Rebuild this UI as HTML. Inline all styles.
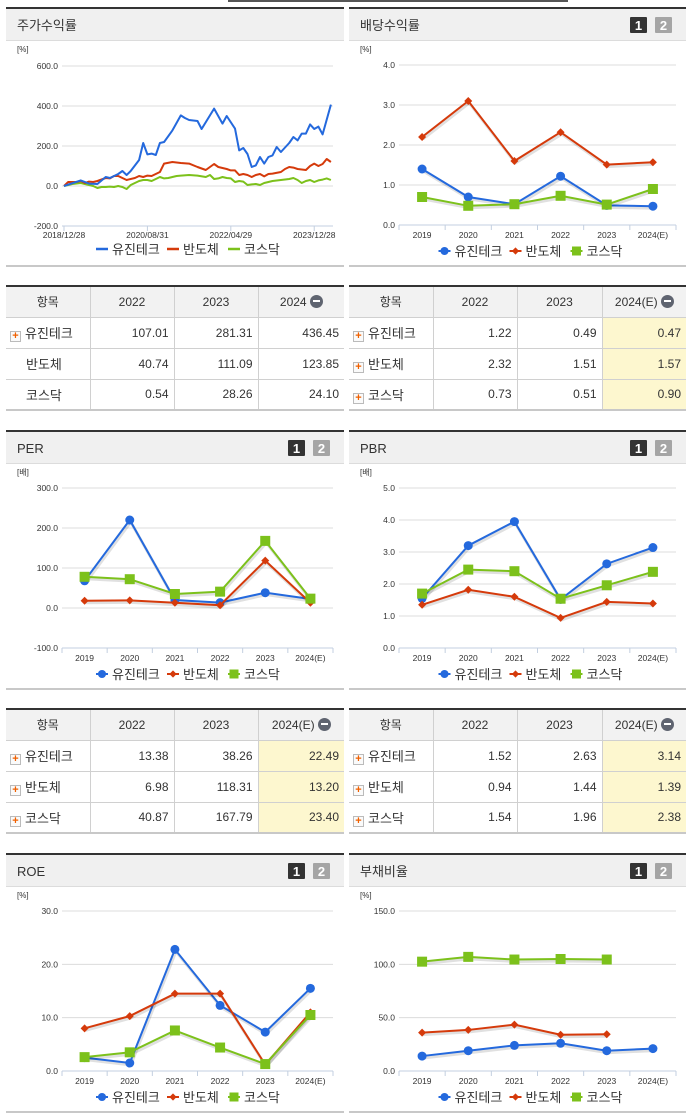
<!DOCTYPE html>
<html><head><meta charset="utf-8">
<style>
*{margin:0;padding:0;box-sizing:border-box}
body{width:691px;height:1115px;background:#fff;position:relative;overflow:hidden;font-family:"Liberation Sans","Noto Sans CJK KR",sans-serif;color:#333}
svg{position:absolute;left:0;top:0}
.tbl{position:absolute;border-collapse:collapse;border-top:2px solid #333;border-bottom:2px solid #c8c8c8;font-size:12px;table-layout:fixed}
.tbl th{background:#f2f2f2;font-weight:normal;height:31px;border-left:1px solid #d0d0d0;border-bottom:1px solid #d0d0d0;font-size:12px;color:#333}
.tbl td{height:31px;border-left:1px solid #d0d0d0;border-bottom:1px solid #d0d0d0;text-align:right;padding-right:5px;color:#333}
.tbl th:first-child,.tbl td:first-child{border-left:none}
.tbl td.lab{text-align:left;padding-left:4px;font-size:13px}
.tbl td.y{background:#fdf7cf}
.pl{display:inline-block;width:11px;height:11px;border:1px solid #bbb;background:#fafafa;color:#f06000;font-size:11px;line-height:9px;text-align:center;font-weight:bold;vertical-align:-1px;margin-right:4px}
.mi{display:inline-block;width:13px;height:13px;border-radius:50%;background:#5f6470;vertical-align:-2px;margin-left:3px;position:relative}
.mi:after{content:"";position:absolute;left:3px;top:5.5px;width:7px;height:2px;background:#fff}
</style></head>
<body>
<svg id="cv" width="691" height="1115"></svg>

<table class="tbl" style="left:6px;top:285px;width:338px">
<colgroup><col style="width:84px"><col style="width:84px"><col style="width:84px"><col style="width:86px"></colgroup>
<tr><th>항목</th><th>2022</th><th>2023</th><th>2024<span class="mi"></span></th></tr>
<tr><td class="lab"><span class="pl">+</span>유진테크</td><td>107.01</td><td>281.31</td><td>436.45</td></tr>
<tr><td class="lab" style="padding-left:20px">반도체</td><td>40.74</td><td>111.09</td><td>123.85</td></tr>
<tr><td class="lab" style="padding-left:20px">코스닥</td><td>0.54</td><td>28.26</td><td>24.10</td></tr>
</table>

<table class="tbl" style="left:349px;top:285px;width:337px">
<colgroup><col style="width:84px"><col style="width:84px"><col style="width:85px"><col style="width:84px"></colgroup>
<tr><th>항목</th><th>2022</th><th>2023</th><th>2024(E)<span class="mi"></span></th></tr>
<tr><td class="lab"><span class="pl">+</span>유진테크</td><td>1.22</td><td>0.49</td><td class="y">0.47</td></tr>
<tr><td class="lab"><span class="pl">+</span>반도체</td><td>2.32</td><td>1.51</td><td class="y">1.57</td></tr>
<tr><td class="lab"><span class="pl">+</span>코스닥</td><td>0.73</td><td>0.51</td><td class="y">0.90</td></tr>
</table>

<table class="tbl" style="left:6px;top:708px;width:338px">
<colgroup><col style="width:84px"><col style="width:84px"><col style="width:84px"><col style="width:86px"></colgroup>
<tr><th>항목</th><th>2022</th><th>2023</th><th>2024(E)<span class="mi"></span></th></tr>
<tr><td class="lab"><span class="pl">+</span>유진테크</td><td>13.38</td><td>38.26</td><td class="y">22.49</td></tr>
<tr><td class="lab"><span class="pl">+</span>반도체</td><td>6.98</td><td>118.31</td><td class="y">13.20</td></tr>
<tr><td class="lab"><span class="pl">+</span>코스닥</td><td>40.87</td><td>167.79</td><td class="y">23.40</td></tr>
</table>

<table class="tbl" style="left:349px;top:708px;width:337px">
<colgroup><col style="width:84px"><col style="width:84px"><col style="width:85px"><col style="width:84px"></colgroup>
<tr><th>항목</th><th>2022</th><th>2023</th><th>2024(E)<span class="mi"></span></th></tr>
<tr><td class="lab"><span class="pl">+</span>유진테크</td><td>1.52</td><td>2.63</td><td class="y">3.14</td></tr>
<tr><td class="lab"><span class="pl">+</span>반도체</td><td>0.94</td><td>1.44</td><td class="y">1.39</td></tr>
<tr><td class="lab"><span class="pl">+</span>코스닥</td><td>1.54</td><td>1.96</td><td class="y">2.38</td></tr>
</table>

<script>
// ---- data ----
const seriesNames = ["유진테크","반도체","코스닥"];
const years = ["2019","2020","2021","2022","2023","2024(E)"];
// stock return (months since 2018/12)
const blueMonths = [0,4,6,8,10,11,13,14,15,16,18,19,20,21,22,23,24,26,28,29,30,32,33,36,38,39,41,42,43,44,45,46,47,48,49,50,51,52,54,55,56,57,58,59,60,61,62,64];
const blueRet = [0,28,12,10,45,40,60,75,55,75,130,215,158,162,155,215,220,278,353,340,330,325,285,387,312,350,287,178,190,160,95,103,145,112,145,153,195,170,215,245,228,262,262,308,285,297,258,407];
const redMonths = [0,1,3,4,5,6,7,8,10,11,12,13,15,17,18,19,20,21,23,24,26,28,30,32,34,36,37,39,40,41,42,43,44,45,46,47,48,49,50,52,53,54,55,56,58,59,60,61,62,63,64];
const redRet = [0,20,20,25,15,22,20,25,40,38,50,50,30,40,50,45,52,50,70,112,120,115,112,95,80,110,95,85,78,78,55,60,55,45,55,60,48,60,62,70,85,95,92,85,80,100,112,100,110,135,120];
const greenMonths = [0,2,4,6,7,8,9,10,11,12,13,14,15,16,17,18,19,20,21,22,23,24,25,26,27,28,30,32,34,35,36,37,38,39,40,41,42,43,44,45,46,47,48,49,50,52,54,55,56,57,58,59,60,61,62,63,64];
const greenRet = [0,10,15,5,0,-10,-5,-5,-3,-5,0,-5,-15,5,15,25,30,30,25,35,45,38,40,45,50,52,55,52,45,55,35,38,45,40,38,20,25,22,5,8,10,5,15,20,25,30,35,40,30,15,25,30,20,28,32,38,30];
const retTicks = ["600.0","400.0","200.0","0.0","-200.0"];
const dateTicks = ["2018/12/28","2020/08/31","2022/04/29","2023/12/28"];
const dateTickMonths = [0,20,40,60];
// dividend
const divBlue=[1.4,0.7,0.52,1.22,0.49,0.47], divRed=[2.2,3.1,1.6,2.32,1.51,1.57], divGreen=[0.7,0.48,0.52,0.73,0.51,0.9];
const divTicks=["4.0","3.0","2.0","1.0","0.0"];
// PER
const perBlue=[68,220,20,13.38,38.26,22.49], perRed=[18,19,13,6.98,118.31,13.2], perGreen=[78,72,35,40.87,167.79,23.4];
const perTicks=["300.0","200.0","100.0","0.0","-100.0"];
// PBR
const pbrBlue=[1.55,3.2,3.95,1.52,2.63,3.14], pbrRed=[1.35,1.82,1.6,0.94,1.44,1.39], pbrGreen=[1.7,2.45,2.4,1.54,1.96,2.38];
const pbrTicks=["5.0","4.0","3.0","2.0","1.0","0.0"];
// ROE
const roeBlue=[2.5,1.5,22.8,12.3,7.3,15.5], roeRed=[8,10.3,14.5,14.5,1.2,11], roeGreen=[2.6,3.5,7.6,4.4,1.3,10.5];
const roeTicks=["30.0","20.0","10.0","0.0"];
// debt ratio
const debtBlue=[14,19,24,26,19,21], debtRed=[36,38.5,43.5,34,34.5,null], debtGreen=[102.5,107,104.5,105,104.5,null];
const debtTicks=["150.0","100.0","50.0","0.0"];

const C=["#2469dd","#d53a0b","#7cc11b"];
const NS="http://www.w3.org/2000/svg";
const svg=document.getElementById('cv');
function el(t,a,p){const e=document.createElementNS(NS,t);for(const k in a)e.setAttribute(k,a[k]);(p||svg).appendChild(e);return e;}
function txt(x,y,s,a,p){const e=el('text',Object.assign({x:x,y:y},a),p);e.textContent=s;return e;}

function panel(x0,w,y0,title,name,btns,unit){
  const g=el('g',{});
  
  
  el('rect',{x:x0,y:y0,width:w,height:2,fill:'#333'},g);
  el('rect',{x:x0,y:y0+2,width:w,height:31,fill:'#f0f0f0'},g);
  el('rect',{x:x0,y:y0+33,width:w,height:1,fill:'#dcdcdc'},g);
  el('rect',{x:x0,y:y0+258,width:w,height:2,fill:'#c8c8c8'},g);
  const t=txt(x0+11,y0+23,title,{'font-size':13,fill:'#333'},g);
  
  
  if(btns){
    const b1=el('g',{},g);
    
    
    el('rect',{x:x0+w-56,y:y0+10,width:17,height:16,rx:1,fill:'#333'},b1);
    txt(x0+w-47.5,y0+23,'1',{'font-size':13,'font-weight':'bold',fill:'#fff','text-anchor':'middle'},b1);
    const b2=el('g',{},g);
    
    
    el('rect',{x:x0+w-31,y:y0+10,width:17,height:16,rx:1,fill:'#a5a5a5'},b2);
    txt(x0+w-22.5,y0+23,'2',{'font-size':13,'font-weight':'bold',fill:'#fff','text-anchor':'middle'},b2);
  }
  const u=txt(x0+11,y0+45,unit,{'font-size':8,fill:'#333'},g);
  
  
  return g;
}

function legend(cx,y,g,lineStyle){
  const lg=el('g',{},g);
  
  
  const offs=[-52,19,80];
  seriesNames.forEach((n,i)=>{
    const x=cx+offs[i];
    const e=el('g',{},lg);
    
    
    el('line',{x1:x-9,y1:y-4,x2:x+3,y2:y-4,stroke:C[i],'stroke-width':lineStyle?2.5:2},e);
    if(!lineStyle) marker(x-3,y-4,i,e,0.9);
    txt(x+7,y+1,n,{'font-size':13,fill:'#333'},e);
  });
}
function marker(x,y,i,g,s){
  s=s||1;
  if(i===0) return el('circle',{cx:x,cy:y,r:4.5*s,fill:C[0]},g);
  if(i===1) return el('path',{d:`M${x} ${y-4*s}L${x+4*s} ${y}L${x} ${y+4*s}L${x-4*s} ${y}Z`,fill:C[1]},g);
  return el('rect',{x:x-5*s,y:y-5*s,width:10*s,height:10*s,fill:C[2]},g);
}

function catChart(o){
  const g=panel(o.x0,o.w,o.y0,o.title,o.name,true,o.unit);
  const L=o.pl,R=o.pr,T=o.y0+58,B=o.y0+218;
  const ys=v=>B-(v-o.min)/(o.max-o.min)*(B-T);
  const bw=(R-L)/years.length;
  const xs=i=>L+bw*(i+0.5);
  o.ticks.forEach(t=>{
    const v=parseFloat(t),y=ys(v);
    if(v!==o.min) el('line',{x1:L,x2:R,y1:y,y2:y,stroke:'#dcdcdc','stroke-width':1},g);
    txt(L-4,y+3,t,{'font-size':8.5,fill:'#333','text-anchor':'end'},g);
  });
  el('line',{x1:L,x2:R,y1:B,y2:B,stroke:'#c3cfe0','stroke-width':1},g);
  for(let i=0;i<=years.length;i++) el('line',{x1:L+bw*i,x2:L+bw*i,y1:B,y2:B+5,stroke:'#c3cfe0'},g);
  years.forEach((yr,i)=>txt(xs(i),B+13,yr,{'font-size':8.5,fill:'#333','text-anchor':'middle'},g));
  [o.b,o.r,o.gr].forEach((arr,si)=>{
    const sg=el('g',{},g);
    
    
    let d='';
    arr.forEach((v,i)=>{if(v==null)return;d+=(d?'L':'M')+xs(i)+' '+ys(v);});
    el('path',{d:d,fill:'none',stroke:'#000','stroke-opacity':0.12,'stroke-width':3,transform:'translate(1,2)'},sg);
    el('path',{d:d,fill:'none',stroke:C[si],'stroke-width':2},sg);
    arr.forEach((v,i)=>{if(v==null)return;const m=marker(xs(i),ys(v),si,sg);
      
      });
  });
  legend(o.x0+o.w/2-18,o.y0+248,g,false);
}

// stock return chart
(function(){
  const x0=6,w=338,y0=7;
  const g=panel(x0,w,y0,'주가수익률','stock-return-chart',false,'[%]');
  const L=62,R=333,T=66,B=226,min=-200,max=600,maxM=64.5;
  const ys=v=>B-(v-min)/(max-min)*(B-T);
  const xm=m=>L+2+m/maxM*(R-L-2);
  retTicks.forEach(t=>{const v=parseFloat(t),y=ys(v);
    if(v!==min) el('line',{x1:L,x2:R,y1:y,y2:y,stroke:'#dcdcdc'},g);
    txt(L-4,y+3,t,{'font-size':8.5,fill:'#333','text-anchor':'end'},g);});
  el('line',{x1:L,x2:R,y1:B,y2:B,stroke:'#c3cfe0'},g);
  dateTicks.forEach((d,i)=>{const x=xm(dateTickMonths[i]);
    el('line',{x1:x,x2:x,y1:B,y2:B+5,stroke:'#c3cfe0'},g);
    txt(x,B+12,d,{'font-size':8.5,fill:'#333','text-anchor':'middle'},g);});
  [[greenMonths,greenRet,2],[redMonths,redRet,1],[blueMonths,blueRet,0]].forEach(([ms,vs,si])=>{
    let d='';ms.forEach((m,i)=>{d+=(i?'L':'M')+xm(m).toFixed(1)+' '+ys(vs[i]).toFixed(1);});
    const p=el('path',{d:d,fill:'none',stroke:C[si],'stroke-width':2,'stroke-linejoin':'round'},g);
    
    
  });
  legend(157,253,g,true);
})();

catChart({x0:349,w:337,y0:7,title:'배당수익률',name:'dividend-yield-chart',unit:'[%]',pl:399,pr:676,min:0,max:4,ticks:divTicks,b:divBlue,r:divRed,gr:divGreen});
catChart({x0:6,w:338,y0:430,title:'PER',name:'per-chart',unit:'[배]',pl:62,pr:333,min:-100,max:300,ticks:perTicks,b:perBlue,r:perRed,gr:perGreen});
catChart({x0:349,w:337,y0:430,title:'PBR',name:'pbr-chart',unit:'[배]',pl:399,pr:676,min:0,max:5,ticks:pbrTicks,b:pbrBlue,r:pbrRed,gr:pbrGreen});
catChart({x0:6,w:338,y0:853,title:'ROE',name:'roe-chart',unit:'[%]',pl:62,pr:333,min:0,max:30,ticks:roeTicks,b:roeBlue,r:roeRed,gr:roeGreen});
catChart({x0:349,w:337,y0:853,title:'부채비율',name:'debt-ratio-chart',unit:'[%]',pl:399,pr:676,min:0,max:150,ticks:debtTicks,b:debtBlue,r:debtRed,gr:debtGreen});
// top tab remnants
el('rect',{x:228,y:0,width:340,height:2,fill:'#555'});
</script>
</body></html>
